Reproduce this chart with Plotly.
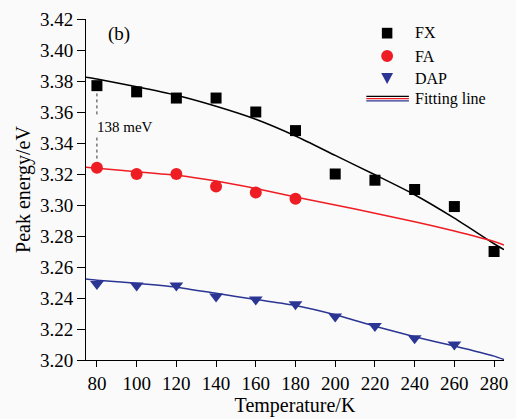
import plotly.graph_objects as go

# ---- data ----
T_fx = [80, 100, 120, 140, 160, 180, 200, 220, 240, 260, 280]
E_fx = [3.377, 3.373, 3.369, 3.369, 3.360, 3.348, 3.320, 3.316, 3.310, 3.299, 3.270]
T_fa = [80, 100, 120, 140, 160, 180]
E_fa = [3.324, 3.320, 3.320, 3.312, 3.308, 3.304]
T_dap = [80, 100, 120, 140, 160, 180, 200, 220, 240, 260]
E_dap = [3.249, 3.248, 3.248, 3.241, 3.239, 3.236, 3.228, 3.222, 3.214, 3.210]

T_fit = [74.5, 80, 100, 120, 140, 160, 180, 200, 220, 240, 260, 280, 285]
E_fit_fx = [3.3824, 3.3813, 3.3763, 3.3708, 3.3637, 3.3553, 3.3445, 3.3320, 3.3195, 3.3066, 3.2915, 3.2750, 3.2712]
E_fit_fa = [3.3243, 3.3237, 3.3215, 3.3192, 3.3155, 3.3107, 3.3052, 3.3000, 3.2947, 3.2892, 3.2832, 3.2764, 3.2742]
E_fit_dap = [3.2522, 3.2515, 3.2495, 3.2470, 3.2430, 3.2390, 3.2352, 3.2292, 3.2218, 3.2150, 3.2090, 3.2025, 3.2003]

x_ticks = [80, 100, 120, 140, 160, 180, 200, 220, 240, 260, 280]
y_ticks = [3.20, 3.22, 3.24, 3.26, 3.28, 3.30, 3.32, 3.34, 3.36, 3.38, 3.40, 3.42]

BLACK = "#000000"
RED = "#ee1d23"
BLUE = "#2b3593"
SERIF = "Liberation Serif, Times New Roman, serif"

fig = go.Figure()

# fitting lines
for E, c in [(E_fit_fx, BLACK), (E_fit_fa, RED), (E_fit_dap, BLUE)]:
    fig.add_trace(go.Scatter(x=T_fit, y=E, mode="lines",
                             line=dict(color=c, width=1.5, shape="spline", smoothing=0.6),
                             showlegend=False, hoverinfo="skip"))

# dotted separation line at 80 K
fig.add_trace(go.Scatter(x=[T_fx[0], T_fx[0]], y=[E_fx[0] - 0.005, 3.3568], mode="lines",
                         line=dict(color="#333333", width=1, dash="dot"), showlegend=False))
fig.add_trace(go.Scatter(x=[T_fa[0], T_fa[0]], y=[3.3435, E_fa[0] + 0.004], mode="lines",
                         line=dict(color="#333333", width=1, dash="dot"), showlegend=False))

# markers
fig.add_trace(go.Scatter(x=T_fx, y=E_fx, mode="markers", name="FX",
                         marker=dict(symbol="square", size=11, color=BLACK), showlegend=False))
fig.add_trace(go.Scatter(x=T_fa, y=E_fa, mode="markers", name="FA",
                         marker=dict(symbol="circle", size=12, color=RED), showlegend=False))
fig.add_trace(go.Scatter(x=T_dap, y=E_dap, mode="markers", name="DAP",
                         marker=dict(symbol="triangle-down", size=12, color=BLUE), showlegend=False))

# layout geometry (pixels)
W, H = 516, 419
L, R, Tm, B = 86, 8, 19, 59
pw, ph = W - L - R, H - Tm - B


def px(x):
    return (x - L) / pw


def py(y):
    return 1 - (y - Tm) / ph


shapes = []
# legend glyphs
lx = 390
shapes.append(dict(type="rect", xref="paper", yref="paper", x0=px(lx - 5.3), x1=px(lx + 5.3),
                   y0=py(38.5), y1=py(27.8), fillcolor=BLACK, line=dict(width=0)))
shapes.append(dict(type="circle", xref="paper", yref="paper", x0=px(lx - 6), x1=px(lx + 6),
                   y0=py(62), y1=py(50), fillcolor=RED, line=dict(width=0)))
tri = "M {:.4f} {:.4f} L {:.4f} {:.4f} L {:.4f} {:.4f} Z".format(
    px(lx - 6), py(73), px(lx + 6), py(73), px(lx), py(84))
shapes.append(dict(type="path", xref="paper", yref="paper", path=tri, fillcolor=BLUE, line=dict(width=0)))
for yy, c in [(96.3, BLACK), (98.6, RED), (100.9, BLUE)]:
    shapes.append(dict(type="line", xref="paper", yref="paper", x0=px(369), x1=px(412),
                       y0=py(yy), y1=py(yy), line=dict(color=c, width=1.2)))

annotations = []
for txt, yy in [("FX", 33), ("FA", 56), ("DAP", 78), ("Fitting line", 99)]:
    annotations.append(dict(text=txt, xref="paper", yref="paper", x=px(416), y=py(yy),
                            xanchor="left", yanchor="middle", showarrow=False,
                            font=dict(family=SERIF, size=16, color="#000")))
annotations.append(dict(text="(b)", xref="paper", yref="paper", x=px(106), y=py(34),
                        xanchor="left", yanchor="middle", showarrow=False,
                        font=dict(family=SERIF, size=19, color="#000")))
annotations.append(dict(text="138 meV", x=T_fx[0] - 1.2, y=3.3503, xanchor="left", yanchor="middle",
                        showarrow=False, font=dict(family=SERIF, size=15, color="#000")))

fig.update_layout(
    width=W, height=H,
    margin=dict(l=L, r=R, t=Tm, b=B),
    paper_bgcolor="#fafafa", plot_bgcolor="#fafafa",
    font=dict(family=SERIF, color="#000"),
    shapes=shapes, annotations=annotations,
    showlegend=False,
    xaxis=dict(range=[74.5, 285], tickvals=x_ticks, ticks="outside", ticklen=6, tickwidth=1,
               tickcolor="#000", showline=True, linecolor="#000", linewidth=1, showgrid=False,
               zeroline=False, tickfont=dict(size=19, family=SERIF), automargin=True,
               title=dict(text="Temperature/K", font=dict(size=20, family=SERIF), standoff=3)),
    yaxis=dict(range=[3.20, 3.42], tickvals=y_ticks, tickformat=".2f", ticks="outside", ticklen=8,
               tickwidth=1, tickcolor="#000", showline=True, linecolor="#000", linewidth=1,
               showgrid=False, zeroline=False, tickfont=dict(size=19, family=SERIF), automargin=True,
               title=dict(text="Peak energy/eV", font=dict(size=20, family=SERIF), standoff=3)),
)

fig.write_html("out.html", config={"displayModeBar": False},
               post_script="document.body.style.margin='0';document.body.style.overflow='hidden';")
